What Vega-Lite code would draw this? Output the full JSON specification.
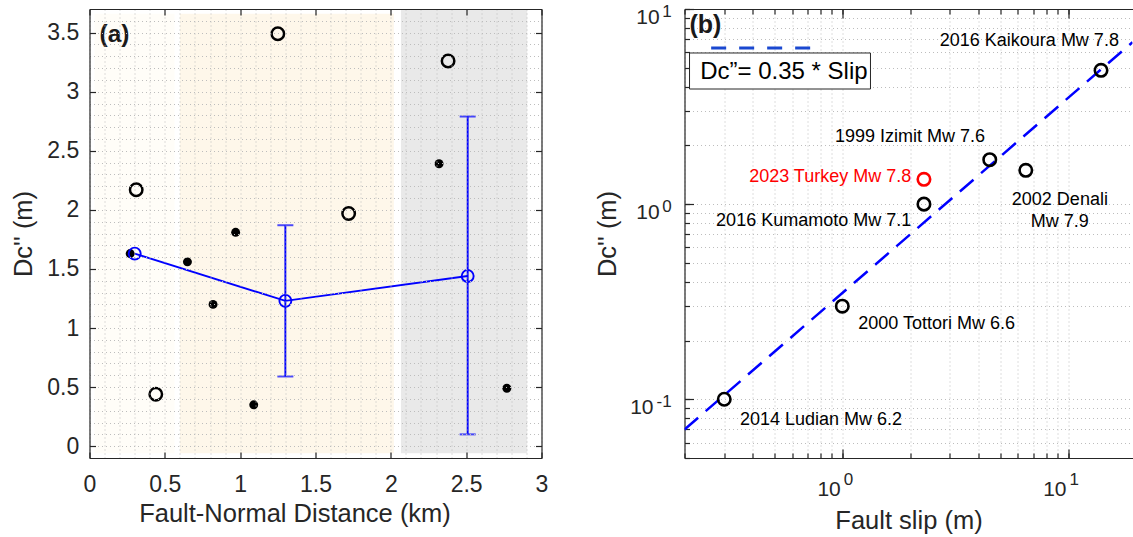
{
  "$schema": "https://vega.github.io/schema/vega-lite/v6.json",
  "background": "white",
  "padding": {"left": 11.5, "top": 2, "right": 0, "bottom": 0},
  "spacing": 47,
  "config": {
    "font": "Liberation Sans",
    "view": {"stroke": null},
    "axis": {
      "labelFont": "Liberation Sans", "titleFont": "Liberation Sans",
      "labelColor": "#262626", "titleColor": "#262626",
      "domainColor": "#262626", "tickColor": "#262626",
      "domainWidth": 1.2, "tickWidth": 1.2, "labelFlush": false, "labelOverlap": false,
      "labelFontSize": 23, "titleFontSize": 25.5, "titleFontWeight": "normal"
    }
  },
  "datasets": {
    "zones": [
      {"x0": 0.033, "x1": 0.565, "y0": -0.06, "y1": 3.66, "zone": "near"},
      {"x0": 0.6, "x1": 2.02, "y0": -0.06, "y1": 3.66, "zone": "mid"},
      {"x0": 2.067, "x1": 2.905, "y0": -0.06, "y1": 3.7, "zone": "far"}
    ],
    "open": [
      {"dist": 0.31, "dc": 2.17}, {"dist": 0.44, "dc": 0.44}, {"dist": 1.25, "dc": 3.49},
      {"dist": 1.72, "dc": 1.97}, {"dist": 2.38, "dc": 3.26}
    ],
    "filled": [
      {"dist": 0.27, "dc": 1.63}, {"dist": 0.65, "dc": 1.56}, {"dist": 0.82, "dc": 1.2},
      {"dist": 0.97, "dc": 1.81}, {"dist": 1.09, "dc": 0.35}, {"dist": 2.32, "dc": 2.39},
      {"dist": 2.77, "dc": 0.49}
    ],
    "means": [
      {"dist": 0.3, "dc": 1.63}, {"dist": 1.3, "dc": 1.23}, {"dist": 2.51, "dc": 1.44}
    ],
    "errs": [
      {"dist": 1.3, "lo": 0.59, "hi": 1.87}, {"dist": 2.51, "lo": 0.1, "hi": 2.79}
    ],
    "events": [
      {"slip": 0.3, "dc": 0.1}, {"slip": 1.0, "dc": 0.3}, {"slip": 2.3, "dc": 1.0},
      {"slip": 4.5, "dc": 1.69}, {"slip": 6.5, "dc": 1.49}, {"slip": 14, "dc": 4.85}
    ],
    "turkey": [{"slip": 2.3, "dc": 1.34}],
    "fit": [{"slip": 0.2, "dc": 0.07}, {"slip": 19.3, "dc": 6.755}],
    "labelsRight": [
      {"slip": 16.8, "dc": 6.82, "label": "2016 Kaikoura Mw 7.8"},
      {"slip": 4.29, "dc": 2.196, "label": "1999 Izimit Mw 7.6"},
      {"slip": 2.02, "dc": 0.821, "label": "2016 Kumamoto Mw 7.1"}
    ],
    "labelsRed": [{"slip": 2.02, "dc": 1.37, "label": "2023 Turkey Mw 7.8"}],
    "labelsCenter": [
      {"slip": 9.2, "dc": 1.05, "label": "2002 Denali"},
      {"slip": 9.2, "dc": 0.81, "label": "Mw 7.9"}
    ],
    "labelsLeft": [
      {"slip": 1.176, "dc": 0.2424, "label": "2000 Tottori Mw 6.6"},
      {"slip": 0.352, "dc": 0.0783, "label": "2014 Ludian Mw 6.2"}
    ],
    "legendLine": [{"s0": 0.2625, "s1": 0.736, "dc": 6.31}],
    "legendBox": [{"s0": 0.2105, "s1": 1.333, "d0": 3.89, "d1": 5.95}],
    "legendText": [{"slip": 0.2347, "dc": 4.77, "label": "Dc\u201d= 0.35 * Slip"}],
    "panelB": [{"slip": 0.2105, "dc": 8.3, "label": "(b)"}],
    "panelA": [{"dist": 0.0665, "dc": 3.48, "label": "(a)"}]
  },
  "hconcat": [
    {
      "width": 452,
      "height": 449,
      "resolve": {"axis": {"x": "independent", "y": "independent"}},
      "layer": [
        {
          "data": {"name": "zones"},
          "mark": {"type": "rect"},
          "encoding": {
            "x": {"field": "x0", "type": "quantitative", "scale": {"domain": [0, 3], "nice": false, "zero": false},
              "axis": {"orient": "bottom", "values": [0,0.1,0.2,0.3,0.4,0.5,0.6,0.7,0.8,0.9,1,1.1,1.2,1.3,1.4,1.5,1.6,1.7,1.8,1.9,2,2.1,2.2,2.3,2.4,2.5,2.6,2.7,2.8,2.9,3],
                "grid": true, "gridDash": [1, 3], "gridColor": "#bdbdbd", "gridWidth": 1, "labels": false, "ticks": false, "domain": false, "title": null, "zindex": 1}},
            "x2": {"field": "x1"},
            "y": {"field": "y0", "type": "quantitative", "scale": {"domain": [-0.1, 3.7], "nice": false, "zero": false},
              "axis": {"orient": "left", "values": [-0.1,0,0.1,0.2,0.3,0.4,0.5,0.6,0.7,0.8,0.9,1,1.1,1.2,1.3,1.4,1.5,1.6,1.7,1.8,1.9,2,2.1,2.2,2.3,2.4,2.5,2.6,2.7,2.8,2.9,3,3.1,3.2,3.3,3.4,3.5,3.6,3.7],
                "grid": true, "gridDash": [1, 3], "gridColor": "#bdbdbd", "gridWidth": 1, "labels": false, "ticks": false, "domain": false, "title": null, "zindex": 1}},
            "y2": {"field": "y1"},
            "fill": {"field": "zone", "type": "nominal", "scale": {"domain": ["near", "mid", "far"], "range": ["#fffdf8", "#fef7ea", "#e9e9e9"]}, "legend": null}
          }
        },
        {
          "data": {"name": "means"},
          "mark": {"type": "line", "color": "#0000ff", "strokeWidth": 1.9},
          "encoding": {
            "x": {"field": "dist", "type": "quantitative", "scale": {"domain": [0, 3], "nice": false, "zero": false}, "axis": null},
            "y": {"field": "dc", "type": "quantitative", "scale": {"domain": [-0.1, 3.7], "nice": false, "zero": false}, "axis": null}
          }
        },
        {
          "data": {"name": "errs"},
          "mark": {"type": "rule", "color": "#0000ff", "strokeWidth": 1.9},
          "encoding": {
            "x": {"field": "dist", "type": "quantitative", "scale": {"domain": [0, 3], "nice": false, "zero": false}, "axis": null},
            "y": {"field": "lo", "type": "quantitative", "scale": {"domain": [-0.1, 3.7], "nice": false, "zero": false}, "axis": null},
            "y2": {"field": "hi"}
          }
        },
        {
          "data": {"name": "errs"},
          "mark": {"type": "tick", "orient": "horizontal", "color": "#0000ff", "size": 16, "thickness": 2},
          "encoding": {
            "x": {"field": "dist", "type": "quantitative", "scale": {"domain": [0, 3], "nice": false, "zero": false}, "axis": null},
            "y": {"field": "lo", "type": "quantitative", "scale": {"domain": [-0.1, 3.7], "nice": false, "zero": false}, "axis": null}
          }
        },
        {
          "data": {"name": "errs"},
          "mark": {"type": "tick", "orient": "horizontal", "color": "#0000ff", "size": 16, "thickness": 2},
          "encoding": {
            "x": {"field": "dist", "type": "quantitative", "scale": {"domain": [0, 3], "nice": false, "zero": false}, "axis": null},
            "y": {"field": "hi", "type": "quantitative", "scale": {"domain": [-0.1, 3.7], "nice": false, "zero": false}, "axis": null}
          }
        },
        {
          "data": {"name": "filled"},
          "mark": {"type": "circle", "color": "#000000", "size": 80, "opacity": 1},
          "encoding": {
            "x": {"field": "dist", "type": "quantitative", "scale": {"domain": [0, 3], "nice": false, "zero": false},
              "axis": {"orient": "top", "values": [0,0.5,1,1.5,2,2.5,3], "labels": false, "ticks": true, "tickSize": -6, "domain": true, "grid": false, "title": null, "zindex": 1}},
            "y": {"field": "dc", "type": "quantitative", "scale": {"domain": [-0.1, 3.7], "nice": false, "zero": false},
              "axis": {"orient": "right", "values": [0,0.5,1,1.5,2,2.5,3,3.5], "labels": false, "ticks": true, "tickSize": -6, "domain": true, "grid": false, "title": null, "zindex": 1}}
          }
        },
        {
          "data": {"name": "open"},
          "mark": {"type": "point", "shape": "circle", "filled": false, "color": "#000000", "size": 155, "strokeWidth": 2.5, "opacity": 1},
          "encoding": {
            "x": {"field": "dist", "type": "quantitative", "scale": {"domain": [0, 3], "nice": false, "zero": false},
              "axis": {"orient": "bottom", "values": [0,0.5,1,1.5,2,2.5,3], "format": "~g", "ticks": true, "tickSize": -6, "labelPadding": 21, "minExtent": 30, "maxExtent": 30, "domain": true, "grid": false, "title": "Fault-Normal Distance (km)", "titlePadding": 13.1, "titleX": 205, "zindex": 1}},
            "y": {"field": "dc", "type": "quantitative", "scale": {"domain": [-0.1, 3.7], "nice": false, "zero": false},
              "axis": {"orient": "left", "values": [0,0.5,1,1.5,2,2.5,3,3.5], "format": "~g", "ticks": true, "tickSize": -6, "labelPadding": 16.7, "minExtent": 40, "maxExtent": 40, "domain": true, "grid": false, "title": "Dc'' (m)", "titlePadding": 13, "zindex": 1}}
          }
        },
        {
          "data": {"name": "means"},
          "mark": {"type": "point", "shape": "circle", "filled": false, "color": "#0000ff", "size": 143, "strokeWidth": 1.9, "opacity": 1},
          "encoding": {
            "x": {"field": "dist", "type": "quantitative", "scale": {"domain": [0, 3], "nice": false, "zero": false}, "axis": null},
            "y": {"field": "dc", "type": "quantitative", "scale": {"domain": [-0.1, 3.7], "nice": false, "zero": false}, "axis": null}
          }
        },
        {
          "data": {"name": "panelA"},
          "mark": {"type": "text", "align": "left", "baseline": "middle", "fontSize": 24.5, "fontWeight": "bold", "color": "#1a1a1a"},
          "encoding": {
            "x": {"field": "dist", "type": "quantitative", "scale": {"domain": [0, 3], "nice": false, "zero": false}, "axis": null},
            "y": {"field": "dc", "type": "quantitative", "scale": {"domain": [-0.1, 3.7], "nice": false, "zero": false}, "axis": null},
            "text": {"field": "label"}
          }
        }
      ]
    },
    {
      "width": 448,
      "height": 449,
      "resolve": {"axis": {"x": "independent", "y": "independent"}},
      "layer": [
        {
          "data": {"name": "fit"},
          "mark": {"type": "line", "color": "#0000ff", "strokeWidth": 2.5, "strokeDash": [18, 10], "clip": true},
          "encoding": {
            "x": {"field": "slip", "type": "quantitative", "scale": {"type": "log", "domain": [0.2, 19.3], "nice": false},
              "axis": {"orient": "bottom", "values": [0.2,0.3,0.4,0.5,0.6,0.7,0.8,0.9,1,2,3,4,5,6,7,8,9,10],
                "grid": true, "gridDash": [1, 3], "gridColor": "#bdbdbd", "gridWidth": 1, "labels": false, "ticks": true, "tickSize": -5, "domain": false, "title": null}},
            "y": {"field": "dc", "type": "quantitative", "scale": {"type": "log", "domain": [0.05, 10], "nice": false},
              "axis": {"orient": "left", "values": [0.05,0.06,0.07,0.08,0.09,0.1,0.2,0.3,0.4,0.5,0.6,0.7,0.8,0.9,1,2,3,4,5,6,7,8,9,10],
                "grid": true, "gridDash": [1, 3], "gridColor": "#bdbdbd", "gridWidth": 1, "labels": false, "ticks": true, "tickSize": -5, "domain": false, "title": null}}
          }
        },
        {
          "data": {"name": "events"},
          "mark": {"type": "point", "shape": "circle", "filled": false, "color": "#000000", "size": 155, "strokeWidth": 2.6, "opacity": 1},
          "encoding": {
            "x": {"field": "slip", "type": "quantitative", "scale": {"type": "log", "domain": [0.2, 19.3], "nice": false},
              "axis": {"orient": "bottom", "values": [1, 10], "labelExpr": "'10'", "labelAlign": "right", "labelOffset": -2, "labelFontSize": 21, "ticks": true, "tickSize": -9, "labelPadding": 29.7, "minExtent": 35, "maxExtent": 35, "domain": true, "grid": false, "title": "Fault slip (m)", "titlePadding": 15}},
            "y": {"field": "dc", "type": "quantitative", "scale": {"type": "log", "domain": [0.05, 10], "nice": false},
              "axis": {"orient": "left", "values": [0.1, 1, 10], "labelExpr": "datum.value < 0.5 ? '' : '10'", "labelAlign": "right", "labelOffset": 8, "labelFontSize": 21, "ticks": true, "tickSize": -9, "labelPadding": 34.3, "minExtent": 50, "maxExtent": 50, "domain": true, "grid": false, "title": "Dc'' (m)", "titlePadding": 13.6}}
          }
        },
        {
          "data": {"name": "turkey"},
          "mark": {"type": "point", "shape": "circle", "filled": false, "color": "#ff0000", "size": 155, "strokeWidth": 2.6, "opacity": 1},
          "encoding": {
            "x": {"field": "slip", "type": "quantitative", "scale": {"type": "log", "domain": [0.2, 19.3], "nice": false},
              "axis": {"orient": "top", "values": [0.2,0.3,0.4,0.5,0.6,0.7,0.8,0.9,1,2,3,4,5,6,7,8,9,10], "labels": false, "ticks": true, "tickSize": -5, "domain": true, "grid": false, "title": null}},
            "y": {"field": "dc", "type": "quantitative", "scale": {"type": "log", "domain": [0.05, 10], "nice": false},
              "axis": {"orient": "left", "values": [0.1, 1, 10], "labelExpr": "datum.value < 0.5 ? '-1' : datum.value < 5 ? '0' : '1'", "labelAlign": "right", "labelOffset": 2, "labelFontSize": 17, "ticks": false, "labelPadding": 13.3, "domain": false, "grid": false, "title": null}}
          }
        },
        {
          "data": {"name": "labelsRight"},
          "mark": {"type": "text", "align": "right", "baseline": "middle", "fontSize": 18, "color": "#000000"},
          "encoding": {
            "x": {"field": "slip", "type": "quantitative", "scale": {"type": "log", "domain": [0.2, 19.3], "nice": false},
              "axis": {"orient": "top", "values": [1, 10], "labels": false, "ticks": true, "tickSize": -9, "domain": false, "grid": false, "title": null}},
            "y": {"field": "dc", "type": "quantitative", "scale": {"type": "log", "domain": [0.05, 10], "nice": false}, "axis": null},
            "text": {"field": "label"}
          }
        },
        {
          "data": {"name": "labelsRed"},
          "mark": {"type": "text", "align": "right", "baseline": "middle", "fontSize": 18, "color": "#ff0000"},
          "encoding": {
            "x": {"field": "slip", "type": "quantitative", "scale": {"type": "log", "domain": [0.2, 19.3], "nice": false},
              "axis": {"orient": "bottom", "values": [1, 10], "labelExpr": "datum.value < 5 ? '0' : '1'", "labelAlign": "left", "labelOffset": 1, "labelFontSize": 17, "ticks": false, "labelPadding": 13.5, "domain": false, "grid": false, "title": null}},
            "y": {"field": "dc", "type": "quantitative", "scale": {"type": "log", "domain": [0.05, 10], "nice": false}, "axis": null},
            "text": {"field": "label"}
          }
        },
        {
          "data": {"name": "labelsCenter"},
          "mark": {"type": "text", "align": "center", "baseline": "middle", "fontSize": 18, "color": "#000000"},
          "encoding": {
            "x": {"field": "slip", "type": "quantitative", "scale": {"type": "log", "domain": [0.2, 19.3], "nice": false}, "axis": null},
            "y": {"field": "dc", "type": "quantitative", "scale": {"type": "log", "domain": [0.05, 10], "nice": false},
              "axis": {"orient": "left", "values": [0.1], "labelExpr": "'10'", "labelAlign": "right", "labelOffset": 8, "labelFontSize": 21, "ticks": false, "labelPadding": 31.5, "domain": false, "grid": false, "title": null}},
            "text": {"field": "label"}
          }
        },
        {
          "data": {"name": "labelsLeft"},
          "mark": {"type": "text", "align": "left", "baseline": "middle", "fontSize": 18, "color": "#000000"},
          "encoding": {
            "x": {"field": "slip", "type": "quantitative", "scale": {"type": "log", "domain": [0.2, 19.3], "nice": false}, "axis": null},
            "y": {"field": "dc", "type": "quantitative", "scale": {"type": "log", "domain": [0.05, 10], "nice": false}, "axis": null},
            "text": {"field": "label"}
          }
        },
        {
          "data": {"name": "legendBox"},
          "mark": {"type": "rect", "fill": "#ffffff", "stroke": "#262626", "strokeWidth": 1},
          "encoding": {
            "x": {"field": "s0", "type": "quantitative", "scale": {"type": "log", "domain": [0.2, 19.3], "nice": false}, "axis": null},
            "x2": {"field": "s1"},
            "y": {"field": "d0", "type": "quantitative", "scale": {"type": "log", "domain": [0.05, 10], "nice": false}, "axis": null},
            "y2": {"field": "d1"}
          }
        },
        {
          "data": {"name": "legendLine"},
          "mark": {"type": "rule", "color": "#1a48d0", "strokeWidth": 3, "strokeDash": [15, 13]},
          "encoding": {
            "x": {"field": "s0", "type": "quantitative", "scale": {"type": "log", "domain": [0.2, 19.3], "nice": false}, "axis": null},
            "x2": {"field": "s1"},
            "y": {"field": "dc", "type": "quantitative", "scale": {"type": "log", "domain": [0.05, 10], "nice": false}, "axis": null}
          }
        },
        {
          "data": {"name": "legendText"},
          "mark": {"type": "text", "align": "left", "baseline": "middle", "fontSize": 24, "color": "#000000"},
          "encoding": {
            "x": {"field": "slip", "type": "quantitative", "scale": {"type": "log", "domain": [0.2, 19.3], "nice": false}, "axis": null},
            "y": {"field": "dc", "type": "quantitative", "scale": {"type": "log", "domain": [0.05, 10], "nice": false}, "axis": null},
            "text": {"field": "label"}
          }
        },
        {
          "data": {"name": "panelB"},
          "mark": {"type": "text", "align": "left", "baseline": "middle", "fontSize": 25, "fontWeight": "bold", "color": "#1a1a1a"},
          "encoding": {
            "x": {"field": "slip", "type": "quantitative", "scale": {"type": "log", "domain": [0.2, 19.3], "nice": false}, "axis": null},
            "y": {"field": "dc", "type": "quantitative", "scale": {"type": "log", "domain": [0.05, 10], "nice": false}, "axis": null},
            "text": {"field": "label"}
          }
        }
      ]
    }
  ]
}
